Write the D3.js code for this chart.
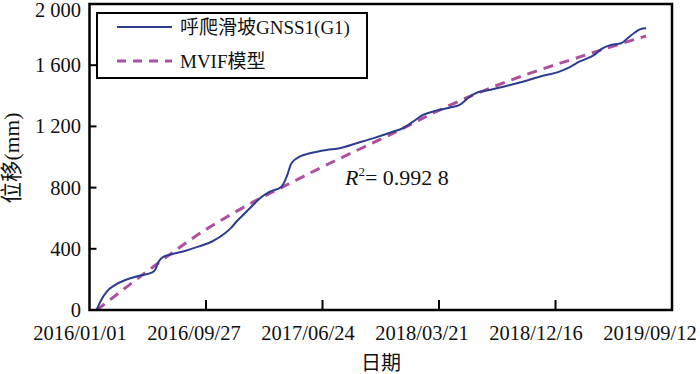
<!DOCTYPE html>
<html>
<head>
<meta charset="utf-8">
<script src="https://cdn.jsdelivr.net/npm/d3@7"></script>
<style>
  body { margin: 0; background: #fff; }
</style>
</head>
<body>
<div id="chart"></div>
<script>
const width = 700;
const height = 374;

// measured GNSS displacement (mm)
const gnssDates = ["2016-01-18","2016-01-26","2016-02-10","2016-02-29","2016-03-24","2016-04-23","2016-05-24","2016-06-01",
  "2016-06-09","2016-06-20","2016-07-10","2016-08-09","2016-09-09","2016-10-10","2016-11-10","2016-11-25","2016-12-09",
  "2016-12-26","2017-01-14","2017-01-30","2017-02-22","2017-03-21","2017-04-02","2017-04-13","2017-05-02","2017-05-26",
  "2017-07-03","2017-08-03","2017-09-11","2017-10-19","2017-12-04","2017-12-27","2018-01-20","2018-02-12","2018-03-15",
  "2018-04-14","2018-05-08","2018-05-31","2018-06-19","2018-07-16","2018-08-24","2018-10-01","2018-11-09","2018-12-25",
  "2019-01-17","2019-02-09","2019-03-16","2019-04-04","2019-04-24","2019-05-17","2019-06-01","2019-06-17","2019-07-02",
  "2019-07-14"];
const gnssValues = [5, 54, 120, 163, 196, 222, 244, 261,
  316, 348, 364, 386, 414, 446, 501, 540, 585,
  632, 686, 730, 773, 806, 871, 959, 1002, 1024,
  1046, 1057, 1090, 1122, 1165, 1188, 1231, 1275, 1303,
  1322, 1340, 1394, 1423, 1438, 1464, 1492, 1525, 1558,
  1586, 1623, 1667, 1710, 1732, 1743, 1776, 1812, 1837,
  1841];

// MVIF model curve (mm)
const modelDates = ["2016-01-18","2016-05-28","2016-09-13","2017-01-11","2017-03-25","2017-07-11","2017-12-12",
  "2018-03-22","2018-07-16","2018-11-09","2019-01-25","2019-04-12","2019-07-14"];
const modelValues = [0, 283, 501, 701, 806, 959, 1165, 1307, 1449, 1569, 1639, 1710, 1791];

const xTicks = ["2016-01-01","2016-09-27","2017-06-24","2018-03-21","2018-12-16","2019-09-12"];
const yTicks = [0, 400, 800, 1200, 1600, 2000];
const legendNames = ["呼爬滑坡GNSS1(G1)", "MVIF模型"];

const parse = d3.utcParse("%Y-%m-%d");
const fmtTick = d3.utcFormat("%Y/%m/%d");
const gnss = gnssDates.map((d, i) => ({date: parse(d), value: gnssValues[i]}));
const model = modelDates.map((d, i) => ({date: parse(d), value: modelValues[i]}));

const plotL = 89.5, plotR = 672, plotT = 4, plotB = 310;

const x = d3.scaleUtc()
    .domain([parse(xTicks[0]), parse(xTicks[xTicks.length - 1])])
    .range([plotL, plotR]);
// labels in the original sit a bit left of their ticks
const xLab = x.copy().range([80, 650]);
const y = d3.scaleLinear().domain([0, 2000]).range([plotB, plotT]);

const svg = d3.select('#chart')
    .append('svg')
    .attr('width', width)
    .attr('height', height)
    .attr('font-family', "'Liberation Serif', 'DejaVu Serif', 'Noto Sans CJK SC', serif")
    .attr('fill', '#111');

const blue = "#2c3d8f";
const pink = "#b04f9f";

// curves
const line = d3.line()
    .x(d => x(d.date))
    .y(d => y(d.value));

svg.append('path')
    .datum(model)
    .attr('d', line.curve(d3.curveCatmullRom))
    .attr('fill', 'none')
    .attr('stroke', pink)
    .attr('stroke-width', 3)
    .attr('stroke-dasharray', '10,7');

svg.append('path')
    .datum(gnss)
    .attr('d', line.curve(d3.curveMonotoneX))
    .attr('fill', 'none')
    .attr('stroke', blue)
    .attr('stroke-width', 2);

// frame
svg.append('rect')
    .attr('x', plotL).attr('y', plotT)
    .attr('width', plotR - plotL).attr('height', plotB - plotT)
    .attr('fill', 'none')
    .attr('stroke', '#000')
    .attr('stroke-width', 2.5);

// x ticks (inward)
svg.selectAll('.xtick')
    .data(xTicks.slice(1, -1))
    .enter().append('line')
    .attr('x1', d => x(parse(d))).attr('x2', d => x(parse(d)))
    .attr('y1', plotB).attr('y2', plotB - 10)
    .attr('stroke', '#000').attr('stroke-width', 2);

svg.selectAll('.xlab')
    .data(xTicks)
    .enter().append('text')
    .attr('x', d => xLab(parse(d)))
    .attr('y', 340)
    .attr('text-anchor', 'middle')
    .attr('font-size', 20.5)
    .text(d => fmtTick(parse(d)));

// y ticks (inward)
svg.selectAll('.ytick')
    .data(yTicks.slice(1, -1))
    .enter().append('line')
    .attr('x1', plotL).attr('x2', plotL + 7)
    .attr('y1', d => y(d)).attr('y2', d => y(d))
    .attr('stroke', '#000').attr('stroke-width', 2);

const fmtY = v => v >= 1000 ? String(v).replace(/(\d)(\d{3})$/, '$1 $2') : String(v);
svg.selectAll('.ylab')
    .data(yTicks)
    .enter().append('text')
    .attr('x', 81)
    .attr('y', d => Math.max(y(d), 10))
    .attr('dy', '0.34em')
    .attr('text-anchor', 'end')
    .attr('font-size', 20.5)
    .text(fmtY);

// axis titles
svg.append('text')
    .attr('x', 381).attr('y', 370)
    .attr('text-anchor', 'middle')
    .attr('font-size', 20)
    .text('日期');

svg.append('text')
    .attr('transform', 'translate(19,158) rotate(-90)')
    .attr('text-anchor', 'middle')
    .attr('font-size', 21.5)
    .text('位移(mm)');

// R^2 annotation
const r2 = svg.append('text')
    .attr('x', 345).attr('y', 185)
    .attr('font-size', 22);
r2.append('tspan').attr('font-style', 'italic').text('R');
r2.append('tspan').attr('dy', -9).attr('font-size', 13).text('2');
r2.append('tspan').attr('dy', 9).text('= 0.992 8');

// legend
const legend = svg.append('g');
legend.append('rect')
    .attr('x', 97).attr('y', 13)
    .attr('width', 270).attr('height', 65)
    .attr('fill', '#fff')
    .attr('stroke', '#000')
    .attr('stroke-width', 2);

const rows = legend.selectAll('.row')
    .data(legendNames)
    .enter().append('g')
    .attr('transform', (d, i) => `translate(0, ${i === 0 ? 27 : 61})`);

rows.append('line')
    .attr('x1', 117).attr('x2', 172)
    .attr('stroke', (d, i) => i === 0 ? blue : pink)
    .attr('stroke-width', (d, i) => i === 0 ? 2 : 3)
    .attr('stroke-dasharray', (d, i) => i === 0 ? null : '9,7');

rows.append('text')
    .attr('x', 180)
    .attr('dy', '0.35em')
    .attr('font-size', 19)
    .text(d => d);
</script>
</body>
</html>
